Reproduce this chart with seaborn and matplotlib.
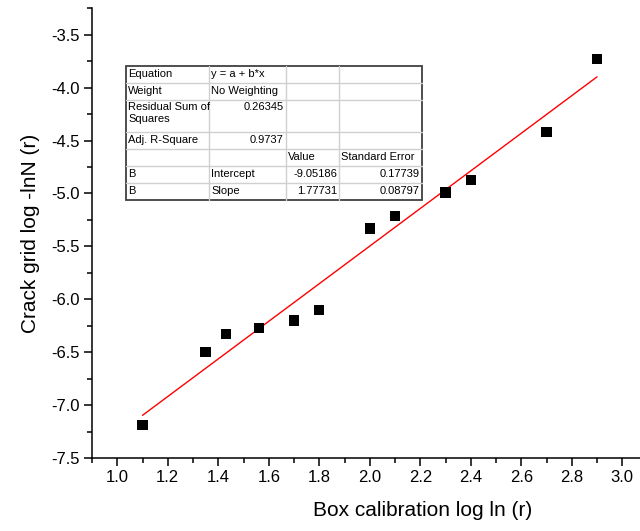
import numpy as np
import matplotlib

matplotlib.use("Agg")
import matplotlib.pyplot as plt
from matplotlib.patches import Rectangle
from matplotlib.ticker import MultipleLocator
import seaborn as sns

# Measured points (box calibration vs crack grid)
box_log_ln = [1.10, 1.35, 1.43, 1.56, 1.70, 1.80, 2.00, 2.10, 2.30, 2.40, 2.70, 2.90]
crack_log_lnn = [-7.19, -6.50, -6.33, -6.27, -6.20, -6.10, -5.33, -5.21, -4.99, -4.87, -4.42, -3.73]

# Linear fit reported in the table
intercept = -9.05186
slope = 1.77731
fit_x = np.array([1.10, 2.90])

x_ticks = [1.0, 1.2, 1.4, 1.6, 1.8, 2.0, 2.2, 2.4, 2.6, 2.8, 3.0]
y_ticks = [-7.5, -7.0, -6.5, -6.0, -5.5, -5.0, -4.5, -4.0, -3.5]

# Fit summary table
table_rows = [
    ["Equation", "y = a + b*x", "", ""],
    ["Weight", "No Weighting", "", ""],
    ["Residual Sum of\nSquares", "0.26345", "", ""],
    ["Adj. R-Square", "0.9737", "", ""],
    ["", "", "Value", "Standard Error"],
    ["B", "Intercept", "-9.05186", "0.17739"],
    ["B", "Slope", "1.77731", "0.08797"],
]
numeric_cells = {(2, 1), (3, 1), (5, 2), (5, 3), (6, 2), (6, 3)}

sns.set_theme(style="ticks")
plt.rcParams["font.family"] = ["Liberation Sans", "DejaVu Sans"]
plt.rcParams["text.color"] = "black"
plt.rcParams["axes.labelcolor"] = "black"
plt.rcParams["xtick.color"] = "black"
plt.rcParams["ytick.color"] = "black"

fig = plt.figure(figsize=(6.4, 5.31), dpi=100)
ax = fig.add_axes([0.14375, 0.1375, 0.868, 0.8468])

sns.lineplot(x=fit_x, y=intercept + slope * fit_x, color="red", linewidth=1.0, ax=ax)
sns.scatterplot(x=box_log_ln, y=crack_log_lnn, marker="s", s=55, color="black",
                edgecolor="none", ax=ax, zorder=3)

ax.set_xticks(x_ticks)
ax.set_xticklabels([f"{v:.1f}" for v in x_ticks])
ax.set_yticks(y_ticks)
ax.set_yticklabels([f"{v:.1f}" for v in y_ticks])
ax.xaxis.set_minor_locator(MultipleLocator(0.1))
ax.yaxis.set_minor_locator(MultipleLocator(0.25))
ax.set_xlim(0.9, 3.1)
ax.set_ylim(-7.5, -3.25)

ax.tick_params(which="major", length=6, width=1.1, labelsize=12, pad=3)
ax.tick_params(which="minor", length=3.5, width=1.1)
for side in ["top", "right"]:
    ax.spines[side].set_visible(False)
for side in ["left", "bottom"]:
    ax.spines[side].set_linewidth(1.1)
    ax.spines[side].set_color("black")

ax.set_xlabel("Box calibration log ln (r)", fontsize=15)
ax.set_ylabel("Crack grid log -lnN (r)", fontsize=15)
ax.xaxis.set_label_coords(0.596, -0.095)
ax.yaxis.set_label_coords(-0.094, 0.5)

# Table overlay, laid out in pixel coordinates
tax = fig.add_axes([0, 0, 1, 1], zorder=5)
tax.set_xlim(0, 640)
tax.set_ylim(531, 0)
tax.axis("off")

row_edges = [65.7, 83.3, 100, 131.7, 149, 166, 183.3, 200]
col_edges = [126, 209.3, 285.7, 339, 421.7]
for y in row_edges[1:-1]:
    tax.plot([col_edges[0], col_edges[-1]], [y, y], color="#d0d0d0", lw=1.0)
for x in col_edges[1:-1]:
    tax.plot([x, x], [row_edges[0], row_edges[-1]], color="#d0d0d0", lw=1.0)
tax.add_patch(Rectangle((col_edges[0], row_edges[0]),
                        col_edges[-1] - col_edges[0], row_edges[-1] - row_edges[0],
                        facecolor="none", edgecolor="#404040", lw=1.3))

for r, row in enumerate(table_rows):
    top, bottom = row_edges[r], row_edges[r + 1]
    for c, txt in enumerate(row):
        if not txt:
            continue
        if (r, c) in numeric_cells:
            x, ha = col_edges[c + 1] - 2, "right"
        else:
            x, ha = col_edges[c] + 2, "left"
        if r == 2:
            tax.text(x, top + 2, txt, ha=ha, va="top", fontsize=8, linespacing=1.25)
        else:
            tax.text(x, (top + bottom) / 2 - 0.5, txt, ha=ha, va="center", fontsize=8)

fig.savefig("out.png", dpi=100)
